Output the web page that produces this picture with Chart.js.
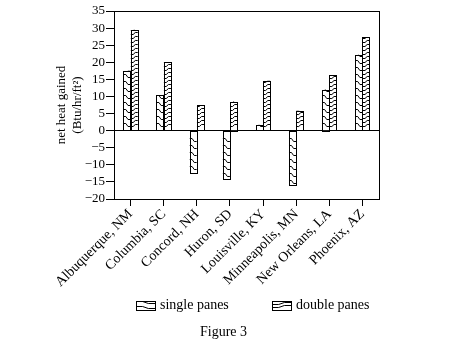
<!DOCTYPE html>
<html><head><meta charset="utf-8">
<script src="https://cdn.jsdelivr.net/npm/chart.js@4"></script>
<style>html,body{margin:0;padding:0;background:#fff;} canvas{display:block}</style>
</head><body>
<canvas id="c" width="449" height="362"></canvas>
<script>
const categories = ["Albuquerque, NM","Columbia, SC","Concord, NH","Huron, SD","Louisville, KY","Minneapolis, MN","New Orleans, LA","Phoenix, AZ"];
const singlePanes = [17.5, 10.5, -12.3, -14.1, 1.7, -15.8, 12.0, 22.2];
const doublePanes = [29.5, 20.0, 7.5, 8.5, 14.6, 5.8, 16.3, 27.4];
const seriesNames = ["single panes", "double panes"];
const yTitle = ["net heat gained", "(Btu/hr/ft²)"];
const caption = "Figure 3";
const SERIF = "'Liberation Serif', 'Times New Roman', serif";

// pattern style per series: [gap, rise, direction]
const patterns = [[7, 2.5, 1], [4, 2, -1]];

function drawSteps(ctx, left, right, top, bottom, gap, rise, dir, fromBottom) {
  const w = right - left;
  ctx.save();
  ctx.beginPath();
  ctx.rect(left, top, w, bottom - top);
  ctx.clip();
  ctx.beginPath();
  const lines = [];
  if (fromBottom) {
    for (let yy = bottom - gap; yy > top - gap; yy -= gap) lines.push(yy);
  } else {
    for (let yy = top + gap; yy < bottom + gap; yy += gap) lines.push(yy);
  }
  lines.forEach(yy => {
    const y0 = Math.round(yy) + 0.5;
    const y1 = Math.round(yy + dir * rise) + 0.5;
    ctx.moveTo(left, y0);
    ctx.lineTo(left + 0.35 * w, y0);
    ctx.lineTo(left + 0.65 * w, y1);
    ctx.lineTo(right, y1);
  });
  ctx.strokeStyle = '#000';
  ctx.lineWidth = 1;
  ctx.stroke();
  ctx.restore();
}

const decor = {
  id: 'decor',
  afterDatasetsDraw(chart) {
    const ctx = chart.ctx;
    chart.data.datasets.forEach((ds, i) => {
      const meta = chart.getDatasetMeta(i);
      const [gap, rise, dir] = patterns[i];
      meta.data.forEach(bar => {
        const p = bar.getProps(['x', 'y', 'base', 'width'], true);
        const left = p.x - p.width / 2, right = p.x + p.width / 2;
        const top = Math.min(p.y, p.base), bottom = Math.max(p.y, p.base);
        drawSteps(ctx, left, right, top, bottom, gap, rise, dir, p.y < p.base);
        ctx.save();
        ctx.strokeStyle = '#000';
        ctx.lineWidth = 1;
        ctx.strokeRect(Math.round(left) + 0.5, Math.round(top) + 0.5, Math.round(right - left), Math.round(bottom - top));
        ctx.restore();
      });
    });
    const a = chart.chartArea;
    ctx.save();
    ctx.strokeStyle = '#000';
    ctx.lineWidth = 1;
    ctx.strokeRect(Math.round(a.left) + 0.5, Math.round(a.top) + 0.5, Math.round(a.right - a.left), Math.round(a.bottom - a.top));
    ctx.restore();
  },
  afterDraw(chart) {
    const ctx = chart.ctx;
    ctx.save();
    ctx.fillStyle = '#000';
    ctx.font = "14px " + SERIF;
    ctx.textBaseline = 'alphabetic';
    ctx.textAlign = 'left';
    const items = [{bx: 136, tx: 160}, {bx: 272, tx: 296}];
    items.forEach((it, i) => {
      const [gap, rise, dir] = patterns[i];
      const bt = 301, bh = 9, bw = 19;
      ctx.fillStyle = '#fff';
      ctx.fillRect(it.bx, bt, bw, bh);
      drawSteps(ctx, it.bx, it.bx + bw, bt, bt + bh, i === 0 ? 4.5 : 3, 2, dir, true);
      ctx.strokeStyle = '#000';
      ctx.strokeRect(it.bx + 0.5, bt + 0.5, bw, bh);
      ctx.fillStyle = '#000';
      ctx.fillText(seriesNames[i], it.tx, 309);
    });
    ctx.textAlign = 'center';
    ctx.fillText(caption, 223.5, 336);
    ctx.restore();
  }
};

new Chart(document.getElementById('c'), {
  type: 'bar',
  data: {
    labels: categories,
    datasets: [
      {label: seriesNames[0], data: singlePanes, backgroundColor: '#fff', borderColor: '#000', borderWidth: 0},
      {label: seriesNames[1], data: doublePanes, backgroundColor: '#fff', borderColor: '#000', borderWidth: 0}
    ]
  },
  options: {
    responsive: false,
    animation: false,
    events: [],
    categoryPercentage: 0.44,
    barPercentage: 1.0,
    layout: {padding: {left: 0, right: 70, top: 11, bottom: 63}},
    plugins: {legend: {display: false}, tooltip: {enabled: false}},
    scales: {
      x: {
        offset: true,
        grid: {offset: false, drawOnChartArea: false, drawTicks: true, tickLength: 7, color: '#000', lineWidth: 1},
        border: {display: true, color: '#000'},
        ticks: {minRotation: 45, maxRotation: 45, autoSkip: false, color: '#000', font: {family: SERIF, size: 14}, padding: 0},
        afterFit(s) { s.height = 100; }
      },
      y: {
        min: -20, max: 35,
        ticks: {stepSize: 5, autoSkip: false, color: '#000', font: {family: SERIF, size: 13}, padding: 1,
          callback: v => v < 0 ? '\u2212' + Math.abs(v) : '' + v},
        grid: {drawOnChartArea: true, color: c => (c.tick && c.tick.value === 0) ? '#000' : 'rgba(0,0,0,0)', tickColor: '#000', tickLength: 8},
        border: {display: true, color: '#000'},
        title: {display: true, text: yTitle, color: '#000', font: {family: SERIF, size: 13}, padding: {top: 54, bottom: 0}},
        afterFit(s) { s.width = 114; }
      }
    }
  },
  plugins: [decor]
});
</script>
</body></html>
